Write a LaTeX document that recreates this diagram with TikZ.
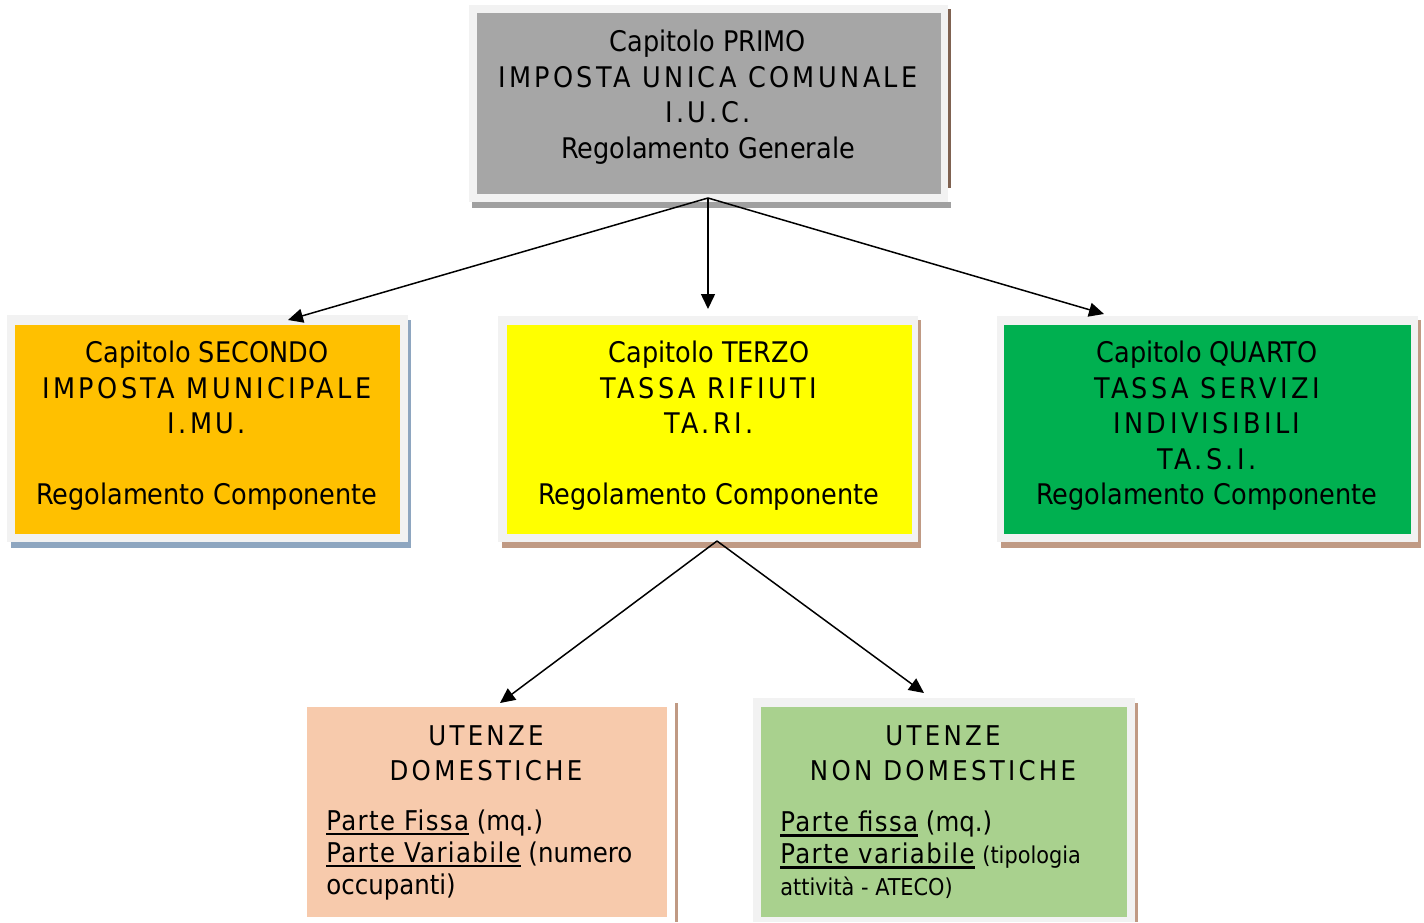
\documentclass[tikz,border=0pt]{standalone}
\usepackage{fontspec}
\setmainfont{DejaVu Sans Condensed}
\newfontfamily\capsp[LetterSpace=12]{DejaVu Sans Condensed}
\newfontfamily\ulsp[LetterSpace=5]{DejaVu Sans Condensed}
\usetikzlibrary{arrows.meta,fit}
\definecolor{framec}{HTML}{F2F2F2}
\definecolor{grayc}{HTML}{A6A6A6}
\definecolor{orangec}{HTML}{FFC000}
\definecolor{yellowc}{HTML}{FFFF00}
\definecolor{greenc}{HTML}{00B050}
\definecolor{peachc}{HTML}{F7CAAC}
\definecolor{lgreenc}{HTML}{A9D18E}
\definecolor{tanc}{HTML}{C09A84}
\definecolor{darkbrown}{HTML}{7F6251}
\definecolor{shgray}{HTML}{A0A0A0}
\definecolor{bluegray}{HTML}{8EA6C0}
\newcommand\myul[1]{\setbox0\hbox{\ulsp #1}\rlap{\rule[-2.4pt]{\wd0}{1.3pt}}\box0\relax}
\begin{document}
\begin{tikzpicture}[x=0.5pt,y=-0.5pt,
  txt/.style={font=\fontsize{14.2}{17.75}\selectfont, align=center, inner sep=0pt},
  btxt/.style={font=\fontsize{13.6}{17.5}\selectfont, align=center, inner sep=0pt},
  ltxt/.style={font=\fontsize{13.6}{16}\selectfont, align=left, inner sep=0pt, anchor=west},
  boxfill/.style={inner sep=0pt, draw=none},
  arr/.style={line width=0.75pt, -{Triangle[length=7.5pt,width=7pt]}}]
\useasboundingbox (0,0) rectangle (1424,922);
\fill[white] (0,0) rectangle (1424,922);

% ---- top box
\fill[shgray] (472,202) rectangle (951,208);
\fill[darkbrown] (948,9) rectangle (951,188);
\fill[framec] (469,5) rectangle (948,202);
\node[boxfill, fill=grayc, fit={(477,13) (941,194)}] (top) {};
\node[txt] (toptxt) at (708,97) {Capitolo PRIMO\\{\capsp IMPOSTA UNICA COMUNALE}\\{\capsp I.U.C.}\\Regolamento Generale};

% ---- orange box
\fill[bluegray] (11,542) rectangle (411,548);
\fill[bluegray] (408,320) rectangle (411,548);
\fill[framec] (7,315) rectangle (408,542);
\node[boxfill, fill=orangec, fit={(15,325) (400,534)}] (imu) {};
\node[txt] (imutxt) at (207,426) {Capitolo SECONDO\\{\capsp IMPOSTA MUNICIPALE}\\{\capsp I.MU.}\\[17.75pt]Regolamento Componente};

% ---- yellow box
\fill[tanc] (502,542) rectangle (921,548);
\fill[tanc] (918,320) rectangle (921,548);
\fill[framec] (498,316) rectangle (918,542);
\node[boxfill, fill=yellowc, fit={(507,325) (912,534)}] (tari) {};
\node[txt] (taritxt) at (709,426) {Capitolo TERZO\\{\capsp TASSA RIFIUTI}\\{\capsp TA.RI.}\\[17.75pt]Regolamento Componente};

% ---- green box
\fill[tanc] (1001,542) rectangle (1421,548);
\fill[tanc] (1418,320) rectangle (1421,548);
\fill[framec] (997,316) rectangle (1418,542);
\node[boxfill, fill=greenc, fit={(1004,325) (1411,534)}] (tasi) {};
\node[txt] (tasitxt) at (1207,426) {Capitolo QUARTO\\{\capsp TASSA SERVIZI}\\{\capsp INDIVISIBILI}\\{\capsp TA.S.I.}\\Regolamento Componente};

% ---- peach box
\fill[tanc] (675,703) rectangle (678,922);
\node[boxfill, fill=peachc, fit={(307,707) (667,917)}] (dom) {};
\node[btxt] (domhead) at (486,753.5) {{\capsp UTENZE}\\{\capsp DOMESTICHE}};
\node[ltxt] (domtxt) at (326,855) {\myul{Parte Fissa} (mq.)\\\myul{Parte Variabile} (numero\\occupanti)};

% ---- light green box
\fill[tanc] (1135,703) rectangle (1138,922);
\fill[framec] (753,698) rectangle (1135,922);
\node[boxfill, fill=lgreenc, fit={(761,707) (1127,917)}] (ndom) {};
\node[btxt] (ndomhead) at (943,753.5) {{\capsp UTENZE}\\{\capsp NON DOMESTICHE}};
\node[ltxt] (ndomtxt) at (780,855) {\myul{Parte fissa} (mq.)\\\myul{Parte variabile} {\fontsize{11.6}{16}\selectfont(tipologia}\\{\fontsize{11.6}{16}\selectfont attività - ATECO)}};

% ---- connectors
\coordinate (s1) at (708,198);
\coordinate (t1) at (288,320);
\coordinate (t2) at (708,309);
\coordinate (t3) at (1104,314);
\coordinate (s2) at (717,541);
\coordinate (t4) at (500,703);
\coordinate (t5) at (924,693);
\draw[arr] (s1) -- (t1);
\draw[arr] (s1) -- (t2);
\draw[arr] (s1) -- (t3);
\draw[arr] (s2) -- (t4);
\draw[arr] (s2) -- (t5);
\end{tikzpicture}
\end{document}
